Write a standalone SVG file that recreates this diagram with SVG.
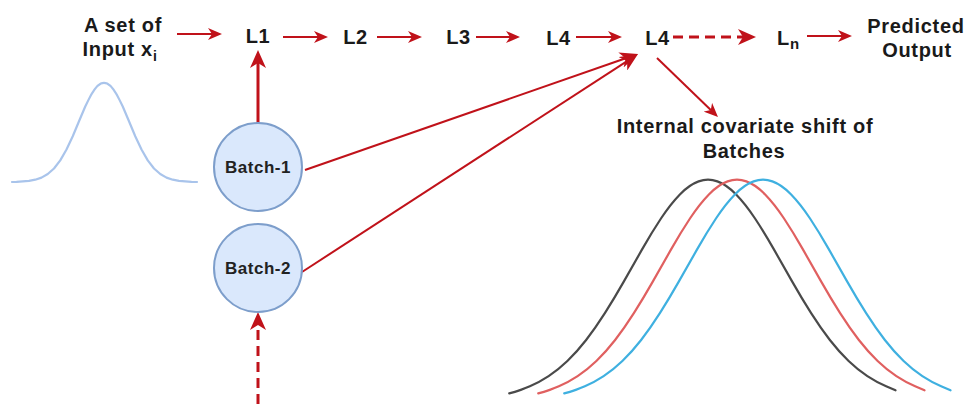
<svg xmlns="http://www.w3.org/2000/svg" width="969" height="404" viewBox="0 0 969 404">
<style>
.t{font-family:"Liberation Sans",Arial,sans-serif;font-weight:bold;font-size:20px;fill:#1a1a1a;letter-spacing:0.7px}
.b{font-family:"Liberation Sans",Arial,sans-serif;font-weight:bold;font-size:17px;fill:#222;letter-spacing:0.5px}
.ln{stroke:#c0121a;stroke-width:2;fill:none}
.thick{stroke:#c0121a;stroke-width:3;fill:none}
.dash{stroke-dasharray:10 6}
.node{fill:#dae8fc;stroke:#7d9ecb;stroke-width:2}
.curve{fill:none;stroke-width:2.2;stroke-linejoin:round;stroke-linecap:round}
</style>
<defs>
<marker id="ah" viewBox="0 0 14 12" markerWidth="14" markerHeight="12" refX="4" refY="6" orient="auto" markerUnits="userSpaceOnUse">
<path d="M0,0 L14,6 L0,12 L4,6 z" fill="#c0121a"/>
</marker>
<marker id="ahb" viewBox="0 0 18 16" markerWidth="18" markerHeight="16" refX="5" refY="8" orient="auto" markerUnits="userSpaceOnUse">
<path d="M0,0 L18,8 L0,16 L5,8 z" fill="#c0121a"/>
</marker>
<path id="bell" d="M-198.75,-6.6 L-193.125,-8.15 Q-187.5,-9.7 -178.125,-13.7 Q-168.75,-17.7 -159.375,-23.85 Q-150,-30 -140.625,-39 Q-131.25,-48 -121.875,-60.05 Q-112.5,-72.1 -103.125,-86.85 Q-93.75,-101.6 -84.375,-118.1 Q-75,-134.6 -65.625,-151.1 Q-56.25,-167.6 -46.875,-181.75 Q-37.5,-195.9 -28.125,-205.55 Q-18.75,-215.2 -9.375,-218.6 Q0,-222 9.375,-218.6 Q18.75,-215.2 28.125,-205.55 Q37.5,-195.9 46.875,-181.75 Q56.25,-167.6 65.625,-151.1 Q75,-134.6 84.375,-118.1 Q93.75,-101.6 103.125,-86.85 Q112.5,-72.1 121.875,-60.05 Q131.25,-48 140.625,-39 Q150,-30 159.375,-23.85 Q168.75,-17.7 178.125,-13.7 L187.5,-9.7"/>
</defs>

<g id="input-dist">
<path class="curve" stroke="#a9c4eb" d="M12,182 L16.5,181.8 L29,180.9 L35.25,179.7 L41.5,177.6 L47.75,174 L54,168.5 L60.25,160.4 L66.5,149.5 L72.75,136.2 L79,121.3 L85.25,106.5 L88.375,100.125 Q91.5,93.75 94.625,89.425 Q97.75,85.1 100.875,83.55 Q104,82 107.125,83.55 Q110.25,85.1 113.375,89.425 Q116.5,93.75 119.625,100.125 L122.75,106.5 L129,121.3 L135.25,136.2 L141.5,149.5 L147.75,160.4 L154,168.5 L160.25,174 L166.5,177.6 L172.75,179.7 L179,180.9 L191.5,181.8 L197,182"/>
</g>

<g id="shift-curves">
<use href="#bell" class="curve" stroke="#4a4a4a" transform="translate(708,400)"/>
<use href="#bell" class="curve" stroke="#e06060" transform="translate(737,400)"/>
<use href="#bell" class="curve" stroke="#3fb0e0" transform="translate(763,400)"/>
</g>

<g id="connectors">
<line class="ln" x1="177" y1="34" x2="212" y2="34" marker-end="url(#ah)"/>
<line class="ln" x1="283" y1="37" x2="318" y2="37" marker-end="url(#ah)"/>
<line class="ln" x1="377" y1="37" x2="412" y2="37" marker-end="url(#ah)"/>
<line class="ln" x1="476" y1="37" x2="510" y2="37" marker-end="url(#ah)"/>
<line class="ln" x1="576" y1="37" x2="612" y2="37" marker-end="url(#ah)"/>
<line class="thick dash" x1="673" y1="37" x2="743" y2="37" marker-end="url(#ahb)"/>
<line class="ln" x1="807" y1="36" x2="842" y2="36" marker-end="url(#ah)"/>
<line class="ln" x1="657" y1="58" x2="710.8" y2="110" marker-end="url(#ah)"/>
<line class="ln" x1="305" y1="170" x2="625.7" y2="58.3" marker-end="url(#ahb)"/>
<line class="ln" x1="302" y1="272" x2="627.1" y2="61.1" marker-end="url(#ahb)"/>
<line class="thick" x1="258" y1="123" x2="258" y2="63" marker-end="url(#ahb)"/>
<line class="thick dash" x1="258" y1="404" x2="258" y2="325" marker-end="url(#ahb)"/>
</g>

<g id="input">
<text class="t" x="123" y="32" text-anchor="middle">A set of</text>
<text class="t" x="120" y="56" text-anchor="middle">Input x<tspan font-size="14" dy="5">i</tspan></text>
</g>
<g id="L1"><text class="t" x="258" y="43" text-anchor="middle">L1</text></g>
<g id="L2"><text class="t" x="355.5" y="44" text-anchor="middle">L2</text></g>
<g id="L3"><text class="t" x="458.5" y="44" text-anchor="middle">L3</text></g>
<g id="L4a"><text class="t" x="558.5" y="45" text-anchor="middle">L4</text></g>
<g id="L4b"><text class="t" x="657.5" y="45" text-anchor="middle">L4</text></g>
<g id="Ln"><text class="t" x="777" y="45">L<tspan font-size="15" dy="4">n</tspan></text></g>
<g id="output">
<text class="t" x="916" y="33" text-anchor="middle">Predicted</text>
<text class="t" x="917" y="57" text-anchor="middle">Output</text>
</g>
<g id="shift-label">
<text class="t" x="745" y="133" text-anchor="middle">Internal covariate shift of</text>
<text class="t" x="744" y="158" text-anchor="middle">Batches</text>
</g>
<g id="batch1">
<circle class="node" cx="258" cy="167" r="44"/>
<text class="b" x="258" y="173" text-anchor="middle">Batch-1</text>
</g>
<g id="batch2">
<circle class="node" cx="258" cy="268" r="44"/>
<text class="b" x="258" y="274" text-anchor="middle">Batch-2</text>
</g>
</svg>
